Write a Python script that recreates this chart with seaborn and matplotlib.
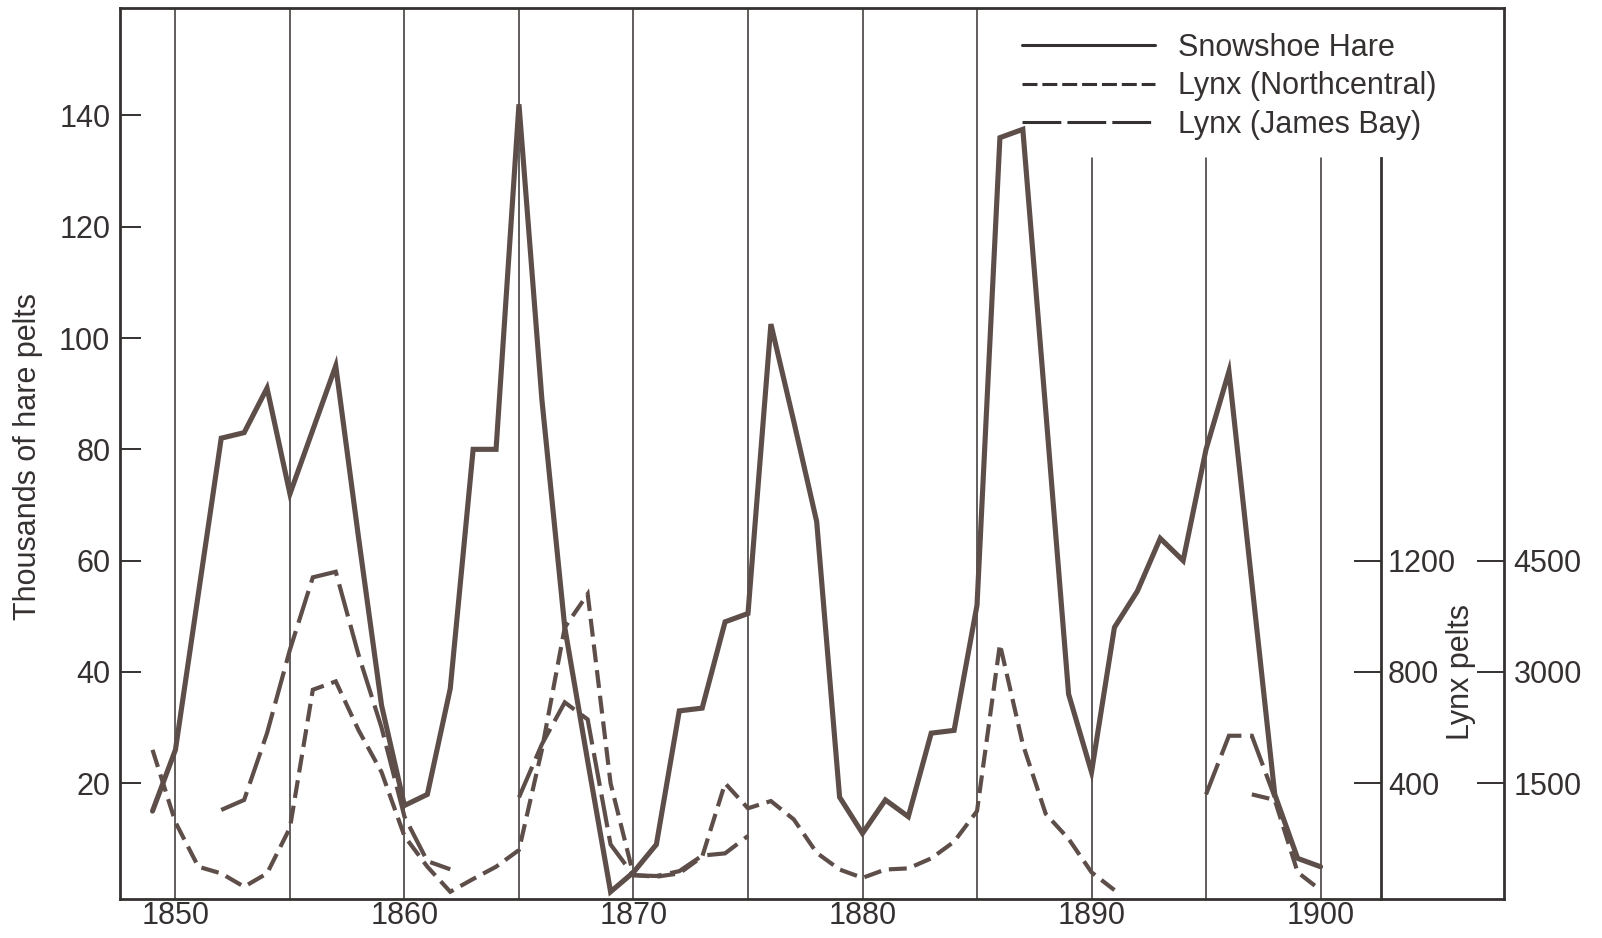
import matplotlib
matplotlib.use('Agg')
import matplotlib.pyplot as plt
from matplotlib.lines import Line2D
import numpy as np
import pandas as pd
import seaborn as sns

# Hudson's Bay Company pelt returns
years = list(range(1849, 1901))

# thousands of hare pelts
hare = [15, 26, 54, 82, 83, 91, 72, 83.5, 95, 64,
        34, 16, 18, 37, 80, 80, 142, 89, 48, 24,
        0.5, 4, 9, 33, 33.5, 49, 50.5, 102.5, 85, 67,
        17.5, 11, 17, 14, 29, 29.5, 52, 136, 137.5, 87,
        36, 22, 48, 54.5, 64, 60, 80, 94, 56, 18,
        6.5, 5]

# lynx pelts, Northcentral (inner right scale, 400 / 800 / 1200)
lynx_nc = [520, 260, 100, 76, 28, 76, 240, 736, 766, 590,
           440, 210, 100, 10, 56, 100, 160, 520, 960, 1080,
           400, 70, 64, 76, 136, 400, 310, 336, 270, 150,
           90, 60, 90, 94, 130, 190, 300, 900, 540, 290,
           200, 80, 16, None, None, None, None, None, 360, 340,
           80, 16]

# lynx pelts, James Bay (outer right scale, 1500 / 3000 / 4500)
lynx_jb = [None, None, None, 1140, 1275, 2175, 3300, 4275, 4350, 3225,
           2250, 1050, 450, 340, None, None, 1310, 2025, 2590, 2360,
           675, 260, 250, 315, 525, 555, 790, None, None, None,
           None, None, None, None, None, None, None, None, None, None,
           None, None, None, None, None, None, 1350, 2140, 2140, 1310,
           None, None]

x_ticks = [1850, 1860, 1870, 1880, 1890, 1900]
hare_ticks = [20, 40, 60, 80, 100, 120, 140]
nc_ticks = [400, 800, 1200]
jb_ticks = [1500, 3000, 4500]

INK = '#353130'
MARK = '#5e4e4a'
NC_K = 20    # lynx pelts per thousand hare pelts on each right scale
JB_K = 75

sns.set_style('white')
plt.rcParams['font.family'] = ['Liberation Sans', 'DejaVu Sans']
plt.rcParams['text.color'] = INK

W, H = 1602, 938
fig = plt.figure(figsize=(W / 100, H / 100), dpi=100)
ax = fig.add_axes([120 / W, 1 - 899 / H, (1504 - 120) / W, (899 - 8) / H])
ax2 = ax.twinx()
ax3 = ax.twinx()

ylo, yhi = -0.8, 159.3
ax.set_xlim(1847.58, 1908.01)
ax.set_ylim(ylo, yhi)
ax2.set_ylim(ylo * NC_K, yhi * NC_K)
ax3.set_ylim(ylo * JB_K, yhi * JB_K)

# year dividers every five years; the last three stop under the legend
stub = (132.4 - ylo) / (yhi - ylo)
for yr in range(1850, 1901, 5):
    ax.axvline(yr, ymax=1 if yr < 1890 else stub, color=INK, lw=1.1, zorder=1)

sns.lineplot(x=years, y=hare, ax=ax, color=MARK, lw=3.7,
             solid_joinstyle='miter', zorder=3)


def _lynx(target, values, dash):
    s = pd.Series(values, dtype=float)
    df = pd.DataFrame({'year': years, 'pelts': s, 'seg': s.isna().cumsum()})
    df = df[s.notna()]
    sns.lineplot(data=df, x='year', y='pelts', units='seg', estimator=None,
                 ax=target, color=MARK, lw=3.0, linestyle=(0, dash),
                 dash_joinstyle='miter', zorder=3)


_lynx(ax2, lynx_nc, (4.3, 1.9))
_lynx(ax3, lynx_jb, (8.0, 2.1))

for a in (ax, ax2, ax3):
    a.set_xlabel('')
    a.set_ylabel('')
    for sp in a.spines.values():
        sp.set_visible(False)
        sp.set_color(INK)
        sp.set_linewidth(2.0)

for side in ('left', 'top', 'bottom'):
    ax.spines[side].set_visible(True)
ax3.spines['right'].set_visible(True)
ax2.spines['right'].set_visible(True)
ax2.spines['right'].set_position(('axes', (1381 - 120) / (1504 - 120)))
ax2.spines['right'].set_bounds(ylo * NC_K, 132.4 * NC_K)

ax.set_xticks(x_ticks)
ax.set_yticks(hare_ticks)
ax.tick_params(axis='x', length=0, pad=1.5, labelsize=22, colors=INK)
ax.tick_params(axis='y', direction='in', length=15, width=1.4, pad=7,
               labelsize=22, colors=INK, right=False)

ax2.set_yticks(nc_ticks)
ax2.tick_params(axis='y', direction='in', length=19.5, width=1.4, pad=5,
                labelsize=22, colors=INK)
ax3.set_yticks(jb_ticks)
ax3.tick_params(axis='y', direction='in', length=19.5, width=1.4, pad=7,
                labelsize=22, colors=INK)

fig.text(28 / W, 1 - 457 / H, 'Thousands of hare pelts', rotation=90,
         ha='center', va='center', fontsize=22)
fig.text(1461 / W, 1 - 672 / H, 'Lynx pelts', rotation=90,
         ha='center', va='center', fontsize=22)

handles = [Line2D([], [], color=INK, lw=2.2, ls='-'),
           Line2D([], [], color=INK, lw=2.2, ls=(0, (4.9, 1.6))),
           Line2D([], [], color=INK, lw=2.2, ls=(0, (12.7, 2.0)))]
labels = ['Snowshoe Hare', 'Lynx (Northcentral)', 'Lynx (James Bay)']
ax3.legend(handles, labels, loc='upper left',
           bbox_to_anchor=(1022 / W, 1 - 33 / H), bbox_transform=fig.transFigure,
           frameon=False, borderpad=0, borderaxespad=0, handlelength=4.35,
           handletextpad=0.75, labelspacing=0.27, fontsize=22)

fig.savefig('out.png', dpi=100, facecolor='white')
